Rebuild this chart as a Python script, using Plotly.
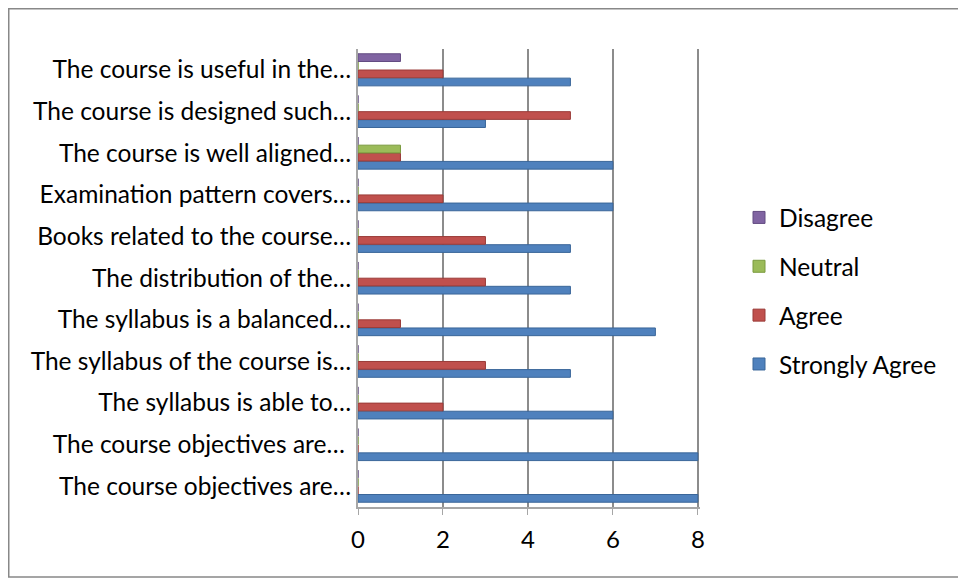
import plotly.graph_objects as go

categories = [
    "The course objectives are…",
    "The course objectives are… ",
    "The syllabus is able to…",
    "The syllabus of the course is…",
    "The syllabus is a balanced…",
    "The distribution of the…",
    "Books related to the course…",
    "Examination pattern covers…",
    "The course is well aligned…",
    "The course is designed such…",
    "The course is useful in the…",
]
strongly_agree = [8, 8, 6, 5, 7, 5, 5, 6, 6, 3, 5]
agree = [0, 0, 2, 3, 1, 3, 3, 2, 1, 5, 2]
neutral = [0, 0, 0, 0, 0, 0, 0, 0, 1, 0, 0]
disagree = [0, 0, 0, 0, 0, 0, 0, 0, 0, 0, 1]
x_ticks = [0, 2, 4, 6, 8]

series = [
    ("Strongly Agree", strongly_agree, "#4F81BD", "#3A6699"),
    ("Agree", agree, "#C0504D", "#9A3B38"),
    ("Neutral", neutral, "#9BBB59", "#7A9A3E"),
    ("Disagree", disagree, "#8064A2", "#634C82"),
]

fig = go.Figure()
for i, (name, vals, col, edge) in enumerate(series):
    fig.add_trace(go.Bar(
        y=categories, x=vals, name=name, orientation="h",
        marker=dict(color=col, line=dict(color=edge, width=1)),
        legendgroup=f"g{i}", legendrank=10 - i,
    ))

L, R, T, B = 350, 274, 41, 80
pw = 966 - L - R
ph = 579 - T - B

fig.update_layout(
    width=966, height=579,
    barmode="group", bargap=0.22, bargroupgap=0.05,
    paper_bgcolor="white", plot_bgcolor="white",
    margin=dict(l=L, r=R, t=T, b=B),
    font=dict(family="Lato, Carlito, Liberation Sans, sans-serif", size=24.5, color="#000"),
    legend=dict(xref="container", yref="container", x=731 / 966, y=1 - 283 / 579,
                xanchor="left", yanchor="middle",
                traceorder="grouped", tracegroupgap=14,
                font=dict(size=24.5), itemwidth=30),
    xaxis=dict(range=[0, 8.05], tickvals=x_ticks, showgrid=True,
               gridcolor="#8C8C8C", gridwidth=2, zeroline=False,
               showline=True, linecolor="#A6A6A6", linewidth=2,
               ticks="outside", ticklen=6, tickcolor="#A6A6A6",
               ticklabelstandoff=4, tickfont=dict(size=24)),
    yaxis=dict(showline=True, linecolor="#A6A6A6", linewidth=2,
               ticks="", ticklabelstandoff=0,
               tickfont=dict(size=24.5), automargin=False),
    shapes=[dict(type="rect", xref="paper", yref="paper",
                 x0=(0.75 - L) / pw, x1=(955 - L) / pw,
                 y0=-(569 - (579 - B)) / ph, y1=(579 - B - 0.75) / ph,
                 line=dict(color="#888888", width=1.5))],
)

fig.write_html("out.html")
